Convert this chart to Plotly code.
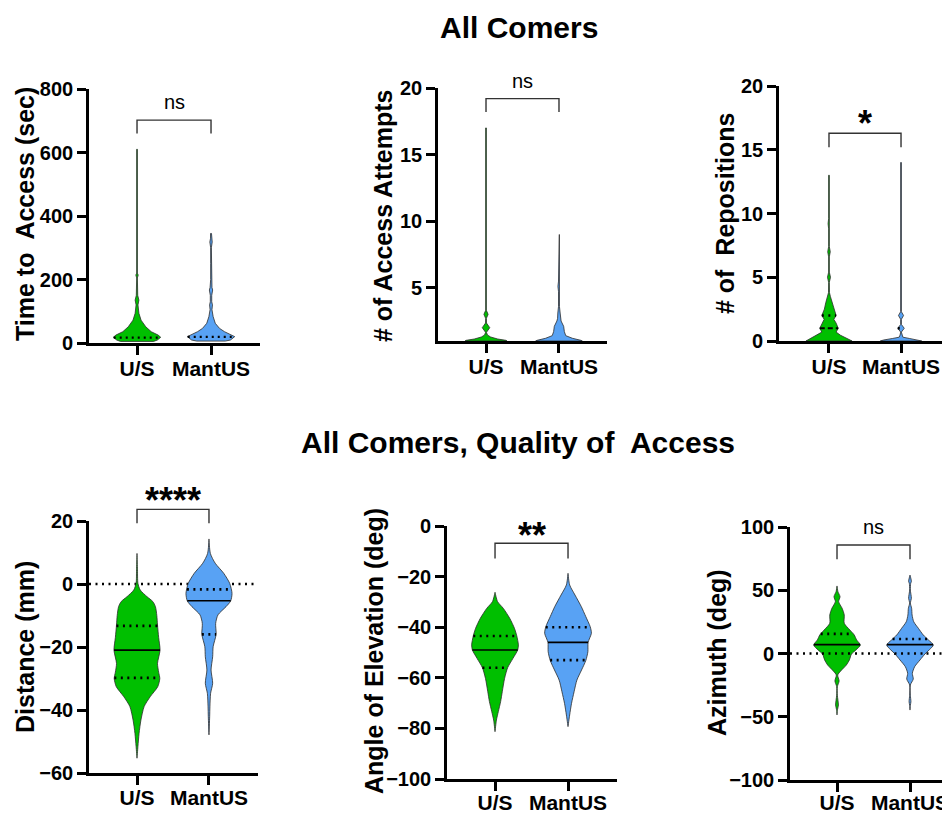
import numpy as np
import plotly.graph_objects as go

GROUPS = ["U/S", "MantUS"]

# ---------------- data: violin density profiles (value, relative half-width) ----------------
# Panel 1: Time to Access (sec)
time_us_y = [610, 500, 490, 480, 330, 320, 310, 220, 214, 205, 150, 135, 120, 93.5, 72, 51, 35.6, 25, 18, 9.4, 5]
time_us_w = [0.015, 0.015, 0.04, 0.015, 0.015, 0.03, 0.015, 0.015, 0.05, 0.015, 0.03, 0.08, 0.04, 0.08, 0.17, 0.37, 0.6, 0.89, 1.0, 0.86, 0.7]
time_mantus_y = [345, 330, 318, 300, 250, 200, 175, 167, 150, 130, 120, 105, 83, 62, 46, 35.6, 25, 20, 9.4, 6]
time_mantus_w = [0.02, 0.02, 0.05, 0.015, 0.015, 0.015, 0.04, 0.07, 0.03, 0.03, 0.06, 0.04, 0.09, 0.18, 0.36, 0.57, 0.86, 1.0, 0.82, 0.6]

# Panel 2: # of Access Attempts
att_us_y = [17, 9.3, 9, 8.7, 6.3, 6, 5.7, 4.3, 4, 3.7, 3.3, 3, 2.7, 2.35, 2, 1.65, 1.45, 1.3, 1.15, 1.05, 1.0]
att_us_w = [0.015, 0.015, 0.03, 0.015, 0.015, 0.045, 0.015, 0.015, 0.045, 0.015, 0.015, 0.09, 0.015, 0.02, 0.16, 0.02, 0.06, 0.2, 0.5, 0.85, 0.9]
att_mantus_y = [9, 6, 5.5, 5.1, 4.7, 3.6, 3.1, 2.7, 2.5, 2.1, 1.7, 1.4, 1.2, 1.05, 1.0]
att_mantus_w = [0.015, 0.015, 0.02, 0.045, 0.02, 0.02, 0.05, 0.06, 0.09, 0.2, 0.23, 0.29, 0.58, 0.94, 1.0]

# Panel 3: # of Repositions
rep_us_y = [13, 9.6, 9.2, 8.8, 7.4, 7.0, 6.6, 5.4, 5.0, 4.6, 3.8, 3.5, 3.0, 2.5, 2.0, 1.7, 1.4, 1.0, 0.7, 0.45, 0.15, 0]
rep_us_w = [0.015, 0.015, 0.04, 0.015, 0.015, 0.055, 0.015, 0.015, 0.065, 0.015, 0.02, 0.06, 0.14, 0.2, 0.31, 0.21, 0.31, 0.4, 0.31, 0.5, 0.85, 1.0]
rep_mantus_y = [14, 3.3, 3.0, 2.7, 2.3, 2.0, 1.7, 1.3, 1.0, 0.7, 0.47, 0.3, 0.2, 0.08, 0]
rep_mantus_w = [0.015, 0.015, 0.04, 0.015, 0.015, 0.11, 0.015, 0.015, 0.14, 0.015, 0.04, 0.08, 0.36, 0.75, 0.9]

# Panel 4: Distance (mm)
dist_us_y = [9.7, 5, 0.2, -1.9, -4, -5.6, -7.2, -10, -13, -17, -21, -25.2, -28, -30, -32.6, -35.8, -38.9, -43.2, -47.4, -51.6, -55.3]
dist_us_w = [0, 0.02, 0.04, 0.14, 0.43, 0.69, 0.80, 0.86, 0.89, 0.94, 1.0, 0.89, 0.94, 0.99, 0.90, 0.57, 0.31, 0.17, 0.09, 0.04, 0]
dist_mantus_y = [14.3, 9.7, 6.6, 3.4, 0.2, -3.0, -5.4, -7.2, -9.8, -12.5, -16, -19.9, -23.1, -27.3, -31.5, -34.7, -39, -42, -47.9]
dist_mantus_w = [0, 0.06, 0.27, 0.64, 0.90, 1.0, 0.94, 0.74, 0.39, 0.29, 0.31, 0.18, 0.16, 0.09, 0.16, 0.07, 0.04, 0.03, 0]

# Panel 5: Angle of Elevation (deg)
elev_us_y = [-26.2, -29.9, -32.5, -36.5, -40.4, -43.4, -47, -49, -52.3, -56, -60.2, -65.5, -69.4, -73.4, -76.7, -81.3]
elev_us_w = [0, 0.11, 0.35, 0.63, 0.83, 0.93, 1.0, 0.97, 0.77, 0.54, 0.41, 0.31, 0.24, 0.14, 0.06, 0]
elev_mantus_y = [-18.7, -23.3, -27.3, -31.9, -35.8, -39.8, -42.4, -46, -49.7, -53.2, -56.9, -60.9, -65.5, -70.1, -74.7, -79.3]
elev_mantus_w = [0, 0.07, 0.30, 0.57, 0.76, 0.95, 1.0, 0.86, 0.85, 0.76, 0.58, 0.38, 0.26, 0.15, 0.07, 0]

# Panel 6: Azimuth (deg)
azi_us_y = [53.4, 48.9, 44.9, 41, 35.7, 30.4, 23.9, 18.6, 14.6, 10.7, 6.7, 2.8, -0.4, -5.1, -9.1, -13.8, -17, -21.7, -26.2, -33, -40.7, -45, -48.6]
azi_us_w = [0, 0.04, 0.13, 0.07, 0.22, 0.31, 0.31, 0.55, 0.74, 0.84, 1.0, 0.81, 0.62, 0.53, 0.40, 0.16, 0.03, 0.09, 0.015, 0.015, 0.06, 0.015, 0]
azi_mantus_y = [62, 57, 55.5, 50.2, 43.6, 40, 35.7, 30.4, 25.1, 19.9, 14.6, 10.7, 6.7, 2.8, -0.4, -5.1, -10.4, -15.7, -20.2, -24.9, -33, -38.1, -41, -44.7]
azi_mantus_w = [0, 0.06, 0.03, 0.015, 0.06, 0.015, 0.07, 0.09, 0.16, 0.36, 0.57, 0.79, 1.0, 0.82, 0.64, 0.43, 0.2, 0.1, 0.14, 0.015, 0.015, 0.04, 0.015, 0]

# medians (solid / styled) and quartiles (dotted)
time_medians = [17, 19]
att_medians = [None, None]
rep_medians = [1, None]
dist_medians = [-21, -5.3]
elev_medians = [-49, -46]
azi_medians = [7, 7]

time_quartiles = [[], []]
att_quartiles = [[], []]
rep_quartiles = [[2], [1]]
dist_quartiles = [[-29.8, -13.3], [-16, -1.7]]
elev_quartiles = [[-56, -43.5], [-53, -40]]
azi_quartiles = [[0, 15.5], [0, 11.5]]

# significance brackets
sig_labels = ["ns", "ns", "*", "****", "**", "ns"]
bracket_top = [702, 19.2, 16.3, 23.7, -6.8, 85.8]
bracket_end = [660, 18.2, 15.2, 19.3, -12.8, 74.5]
sig_label_y = [760, 20.5, 17.6, 28.8, -0.9, 100.2]

y_titles = ["Time to\u00a0 Access (sec)", "# of Access Attempts", "# of\u00a0 Repositions",
            "Distance (mm)", "Angle of Elevation (deg)", "Azimuth (deg)"]
y_ticks = [[0, 200, 400, 600, 800], [5, 10, 15, 20], [0, 5, 10, 15, 20],
           [-60, -40, -20, 0, 20], [-100, -80, -60, -40, -20, 0], [-100, -50, 0, 50, 100]]
y_ranges = [[0, 800], [1, 20], [0, 20], [-60, 20], [-100, 0], [-100, 100]]
zero_line = [False, False, False, True, False, True]

# ---------------- layout geometry (page pixels) ----------------
OFF = 8  # page body margin
W_PX, H_PX = 950 - OFF, 815 - OFF
dom_x_px = [[89, 260], [438, 607], [779, 950], [89, 258], [447, 617], [790, 950]]
dom_y_px = [[89, 343], [88, 341], [86, 341], [521, 773], [526, 779], [527, 780]]
x_ranges = [[-0.649, 1.662], [-0.658, 1.658], [-0.694, 1.68], [-0.667, 1.681], [-0.658, 1.671], [-0.644, 1.548]]
x_label_standoff = [-4, -4, -4, -5, -6, -7]
title_pos_px = [[25, 214], [383, 216], [725, 214], [25, 647], [374, 651], [717, 653]]
line_shapes = ["linear", "linear", "linear", "spline", "spline", "spline"]

profiles = [
    [(time_us_y, time_us_w), (time_mantus_y, time_mantus_w)],
    [(att_us_y, att_us_w), (att_mantus_y, att_mantus_w)],
    [(rep_us_y, rep_us_w), (rep_mantus_y, rep_mantus_w)],
    [(dist_us_y, dist_us_w), (dist_mantus_y, dist_mantus_w)],
    [(elev_us_y, elev_us_w), (elev_mantus_y, elev_mantus_w)],
    [(azi_us_y, azi_us_w), (azi_mantus_y, azi_mantus_w)],
]
medians = [time_medians, att_medians, rep_medians, dist_medians, elev_medians, azi_medians]
median_dash = ["2px,4px", "solid", "5px,3px", "solid", "solid", "solid"]
quartiles = [time_quartiles, att_quartiles, rep_quartiles, dist_quartiles, elev_quartiles, azi_quartiles]

COLORS = ["#00BF00", "#58A2F4"]
HALF = 0.32
FONT = "Liberation Sans, Arial, sans-serif"
DOT = "2px,4.5px"


def px_x(p):
    return min(1.0, max(0.0, (p - OFF) / W_PX))


def px_y(p):
    return min(1.0, max(0.0, 1 - (p - OFF) / H_PX))


fig = go.Figure()
layout = dict(
    width=W_PX, height=H_PX, margin=dict(l=0, r=0, t=0, b=0),
    paper_bgcolor="white", plot_bgcolor="rgba(0,0,0,0)", showlegend=False,
    font=dict(family=FONT, color="black"),
)
annotations = []

for i in range(6):
    n = i + 1
    xa, ya, yb = f"x{n}", f"y{n}", f"y{n + 6}"
    xk = "xaxis" if n == 1 else f"xaxis{n}"
    yk = "yaxis" if n == 1 else f"yaxis{n}"
    ybk = f"yaxis{n + 6}"
    top, bot = dom_y_px[i]
    lo, hi = y_ranges[i]
    scale = (bot - top) / (hi - lo)
    ext = 70
    layout[xk] = dict(
        domain=[px_x(dom_x_px[i][0]), px_x(dom_x_px[i][1])], anchor=ya, range=x_ranges[i],
        showline=True, linewidth=2.6, linecolor="black", ticks="outside", ticklen=9, tickwidth=2.6,
        tickcolor="black", tickvals=[0, 1], ticktext=GROUPS, showgrid=False, zeroline=False,
        ticklabelstandoff=x_label_standoff[i],
        tickfont=dict(size=21, weight="bold", family=FONT, color="black"), automargin=False, fixedrange=True,
    )
    layout[yk] = dict(
        domain=[px_y(bot), px_y(top)], anchor=xa, range=y_ranges[i],
        showline=True, linewidth=2.6, linecolor="black", ticks="outside", ticklen=9, tickwidth=2.6,
        tickcolor="black", tickvals=y_ticks[i], showgrid=False, zeroline=False,
        tickfont=dict(size=20, weight="bold", family=FONT, color="black"), automargin=False, fixedrange=True,
    )
    layout[ybk] = dict(
        domain=[px_y(bot), px_y(top - ext)], anchor=xa, range=[lo, hi + ext / scale],
        visible=False, fixedrange=True,
    )

    if zero_line[i]:
        fig.add_trace(go.Scatter(x=x_ranges[i], y=[0, 0], mode="lines",
                                 line=dict(color="black", width=2.6, dash=DOT),
                                 xaxis=xa, yaxis=ya, hoverinfo="skip", showlegend=False))

    for g in range(2):
        yv = np.array(profiles[i][g][0], dtype=float)
        wv = np.array(profiles[i][g][1], dtype=float) * HALF
        px = np.concatenate([g + wv, (g - wv)[::-1], [g + wv[0]]])
        py = np.concatenate([yv, yv[::-1], [yv[0]]])
        fig.add_trace(go.Scatter(
            x=px, y=py, mode="lines", fill="toself", fillcolor=COLORS[g],
            line=dict(color="#2b2b2b", width=0.8, shape=line_shapes[i], smoothing=0.7),
            xaxis=xa, yaxis=ya, hoverinfo="skip", showlegend=False))

        order = np.argsort(yv)
        ys, ws = yv[order], wv[order]
        med = medians[i][g]
        if med is not None:
            hw = float(np.interp(med, ys, ws))
            fig.add_trace(go.Scatter(x=[g - hw, g + hw], y=[med, med], mode="lines",
                                     line=dict(color="black", width=1.6 if median_dash[i] == "solid" else 2.2,
                                               dash=median_dash[i]),
                                     xaxis=xa, yaxis=ya, hoverinfo="skip", showlegend=False))
        for q in quartiles[i][g]:
            hw = max(float(np.interp(q, ys, ws)), 0.02)
            fig.add_trace(go.Scatter(x=[g - hw, g + hw], y=[q, q], mode="lines",
                                     line=dict(color="black", width=2.6, dash=DOT),
                                     xaxis=xa, yaxis=ya, hoverinfo="skip", showlegend=False))

    fig.add_trace(go.Scatter(x=[0, 0, 1, 1],
                             y=[bracket_end[i], bracket_top[i], bracket_top[i], bracket_end[i]],
                             mode="lines", line=dict(color="#333333", width=1.4),
                             xaxis=xa, yaxis=yb, hoverinfo="skip", showlegend=False))
    is_star = "*" in sig_labels[i]
    annotations.append(dict(
        x=0.5, y=sig_label_y[i], xref=xa, yref=yb,
        text=sig_labels[i], showarrow=False, xanchor="center", yanchor="middle",
        font=dict(size=36 if is_star else 20, family=FONT, color="black",
                  weight="bold" if is_star else "normal"),
        yshift=-7 if is_star else 0,
    ))
    annotations.append(dict(
        x=px_x(title_pos_px[i][0]), y=px_y(title_pos_px[i][1]), xref="paper", yref="paper",
        text=y_titles[i], textangle=-90, showarrow=False, xanchor="center", yanchor="middle",
        font=dict(size=25, family=FONT, color="black", weight="bold"),
    ))

annotations.append(dict(x=px_x(519), y=px_y(27), xref="paper", yref="paper", text="All Comers",
                        showarrow=False, xanchor="center", yanchor="middle",
                        font=dict(size=30, family=FONT, color="black", weight="bold")))
annotations.append(dict(x=px_x(518), y=px_y(443), xref="paper", yref="paper",
                        text="All Comers, Quality of\u00a0 Access",
                        showarrow=False, xanchor="center", yanchor="middle",
                        font=dict(size=30, family=FONT, color="black", weight="bold")))
layout["annotations"] = annotations
fig.update_layout(**layout)
fig.write_html("out.html")
